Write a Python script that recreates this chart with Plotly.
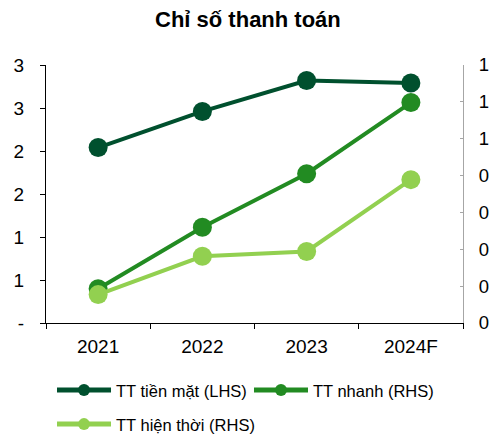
import plotly.graph_objects as go

categories = ["2021", "2022", "2023", "2024F"]
tt_tien_mat = [2.04, 2.46, 2.82, 2.79]      # LHS
tt_nhanh = [0.093, 0.26, 0.405, 0.598]      # RHS
tt_hien_thoi = [0.077, 0.181, 0.194, 0.389] # RHS

left_tickvals = [0, 0.5, 1, 1.5, 2, 2.5, 3]
left_ticktext = ["-", "1", "1", "2", "2", "3", "3"]
right_tickvals = [0, 0.1, 0.2, 0.3, 0.4, 0.5, 0.6, 0.7]
right_ticktext = ["0", "0", "0", "0", "0", "1", "1", "1"]

DARK = "#00502E"
MID = "#228B22"
LIGHT = "#92D050"
FONT = "Liberation Sans, Arial, sans-serif"

fig = go.Figure()
fig.add_trace(go.Scatter(x=categories, y=tt_tien_mat, name="TT tiền mặt (LHS)",
                         mode="lines+markers", line=dict(color=DARK, width=4),
                         marker=dict(color=DARK, size=19), yaxis="y", legend="legend"))
fig.add_trace(go.Scatter(x=categories, y=tt_nhanh, name="TT nhanh (RHS)",
                         mode="lines+markers", line=dict(color=MID, width=4),
                         marker=dict(color=MID, size=19), yaxis="y2", legend="legend2"))
fig.add_trace(go.Scatter(x=categories, y=tt_hien_thoi, name="TT hiện thời (RHS)",
                         mode="lines+markers", line=dict(color=LIGHT, width=4),
                         marker=dict(color=LIGHT, size=19), yaxis="y2", legend="legend3"))

legend_common = dict(orientation="h", xanchor="left", yanchor="middle",
                     font=dict(size=16.5, family=FONT),
                     itemwidth=54, itemsizing="constant", bgcolor="rgba(0,0,0,0)")

fig.update_layout(
    width=489, height=436,
    margin=dict(l=46, r=26, t=65, b=112.5, autoexpand=False),
    paper_bgcolor="white", plot_bgcolor="white",
    font=dict(family=FONT, color="black", size=18),
    title=dict(text="<b>Chỉ số thanh toán</b>", x=0.507, xanchor="center",
               y=0.955, yanchor="middle", font=dict(size=22, family=FONT)),
    xaxis=dict(type="category", range=[-0.5, 3.5], showline=True, linecolor="black",
               linewidth=1, ticks="outside", tickson="boundaries", ticklen=5,
               tickcolor="black", showgrid=False, zeroline=False,
               tickfont=dict(size=19), ticklabelstandoff=6, automargin=False),
    yaxis=dict(range=[0, 3], tickvals=left_tickvals, ticktext=left_ticktext,
               showline=True, linecolor="black", linewidth=1, ticks="outside",
               ticklen=5, tickcolor="black", showgrid=False, zeroline=False,
               tickfont=dict(size=19), ticklabelstandoff=12, automargin=False),
    yaxis2=dict(range=[0, 0.7], tickvals=right_tickvals, ticktext=right_ticktext,
                overlaying="y", side="right", showline=True, linecolor="#A6A6A6",
                linewidth=1, ticks="inside", ticklen=3, tickcolor="#A6A6A6",
                showgrid=False, zeroline=False, tickfont=dict(size=18.5),
                ticklabelstandoff=11, automargin=False),
    showlegend=True,
    legend=dict(x=0.0144, y=-0.261, **legend_common),
    legend2=dict(x=0.4868, y=-0.261, **legend_common),
    legend3=dict(x=0.0144, y=-0.393, **legend_common),
)

fig.write_html("out.html", config={"displayModeBar": False},
               post_script="document.body.style.margin='0';")
